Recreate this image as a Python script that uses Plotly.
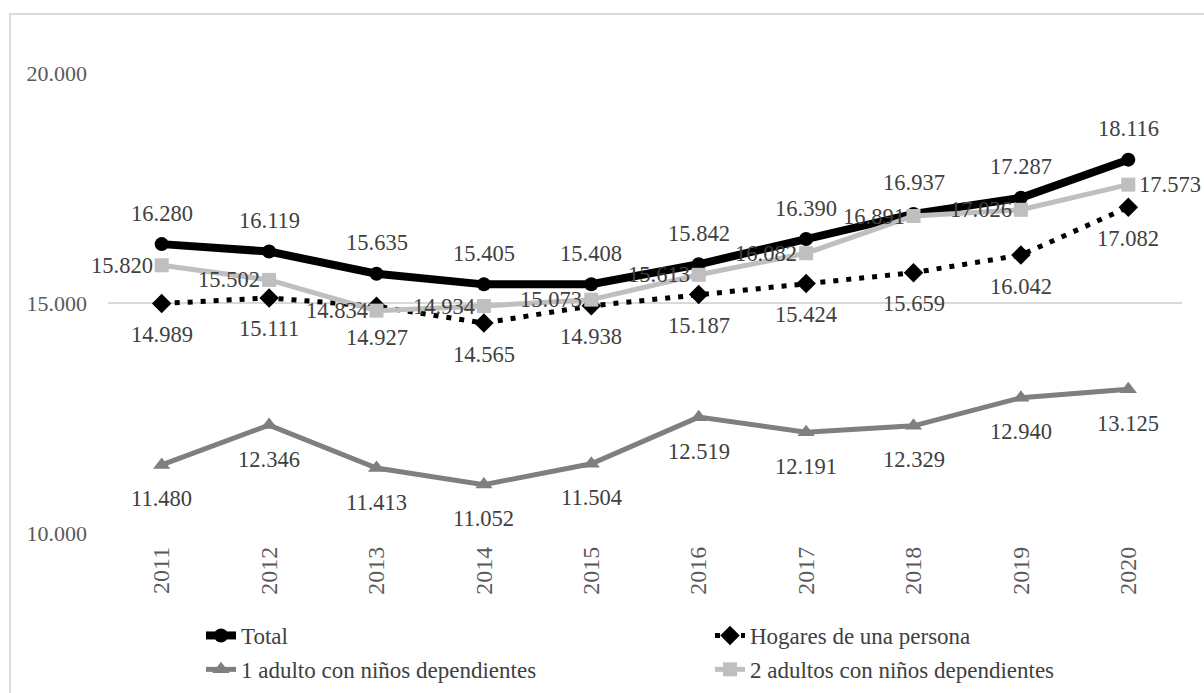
import plotly.graph_objects as go

years = ["2011", "2012", "2013", "2014", "2015", "2016", "2017", "2018", "2019", "2020"]
total = [16280, 16119, 15635, 15405, 15408, 15842, 16390, 16937, 17287, 18116]
hogares = [14989, 15111, 14927, 14565, 14938, 15187, 15424, 15659, 16042, 17082]
un_adulto = [11480, 12346, 11413, 11052, 11504, 12519, 12191, 12329, 12940, 13125]
dos_adultos = [15820, 15502, 14834, 14934, 15073, 15613, 16082, 16891, 17026, 17573]
y_ticks = [10000, 15000, 20000]

FONT = "Liberation Serif"
LBL = dict(family=FONT, size=22.5, color="#404040")


def fmt(v):
    return f"{v:,}".replace(",", ".")


fig = go.Figure()

fig.add_trace(go.Scatter(
    x=years, y=total, name="Total", mode="lines+markers",
    line=dict(color="#000000", width=8), marker=dict(symbol="circle", size=14, color="#000000"),
    legend="legend", legendgroup="a"))

fig.add_trace(go.Scatter(
    x=years, y=un_adulto, name="1 adulto con niños dependientes", mode="lines+markers",
    line=dict(color="#7f7f7f", width=5), marker=dict(symbol="triangle-up", size=15, color="#7f7f7f"),
    legend="legend", legendgroup="b"))

fig.add_trace(go.Scatter(
    x=years, y=hogares, name="Hogares de una persona", mode="lines+markers",
    line=dict(color="#000000", width=5, dash="5px,8px"), marker=dict(symbol="diamond", size=15, color="#000000"),
    legend="legend2", legendgroup="c"))

fig.add_trace(go.Scatter(
    x=years, y=dos_adultos, name="2 adultos con niños dependientes", mode="lines+markers",
    line=dict(color="#bfbfbf", width=5), marker=dict(symbol="square", size=14, color="#bfbfbf"),
    legend="legend2", legendgroup="d"))

annotations = []
for i in range(len(years)):
    annotations.append(dict(x=i, y=total[i], text=fmt(total[i]), showarrow=False,
                            yshift=31, font=LBL))
    annotations.append(dict(x=i, y=hogares[i], text=fmt(hogares[i]), showarrow=False,
                            yshift=-31, font=LBL))
    annotations.append(dict(x=i, y=un_adulto[i], text=fmt(un_adulto[i]), showarrow=False,
                            yshift=-34, font=LBL))
    last = i == len(years) - 1
    annotations.append(dict(x=i, y=dos_adultos[i], text=fmt(dos_adultos[i]), showarrow=False,
                            xanchor="left" if last else "right",
                            xshift=9 if last else -7, font=LBL))

legfont = dict(family=FONT, size=23, color="#404040")
fig.update_layout(
    width=1204, height=693,
    margin=dict(l=108, r=22, t=73, b=160, autoexpand=False),
    paper_bgcolor="white", plot_bgcolor="white",
    separators=",.",
    font=dict(family=FONT, size=22, color="#595959"),
    xaxis=dict(type="category", range=[-0.5, len(years) - 0.5], autorange=False,
               showgrid=False, showline=False, ticks="", ticklabelstandoff=8,
               tickangle=-90, tickfont=dict(family=FONT, size=24, color="#595959")),
    yaxis=dict(range=[10000, 20000], autorange=False, tickvals=y_ticks, tickformat=",d",
               showgrid=True, gridcolor="#d9d9d9", gridwidth=2, zeroline=False,
               showline=False, ticks="", ticklabelstandoff=20,
               tickfont=dict(family=FONT, size=22, color="#595959")),
    legend=dict(x=(201 - 108) / 1074, y=-(614 - 533) / 460, xanchor="left", yanchor="top",
                orientation="v", font=legfont, tracegroupgap=1, bgcolor="rgba(0,0,0,0)"),
    legend2=dict(x=(710 - 108) / 1074, y=-(614 - 533) / 460, xanchor="left", yanchor="top",
                 orientation="v", font=legfont, tracegroupgap=1, bgcolor="rgba(0,0,0,0)"),
    showlegend=True,
    annotations=annotations,
    shapes=[dict(type="rect", xref="paper", yref="paper",
                 x0=(10 - 108) / 1074, x1=(1300 - 108) / 1074,
                 y0=-(800 - 533) / 460, y1=(533 - 14) / 460,
                 line=dict(color="#d9d9d9", width=2), fillcolor="rgba(0,0,0,0)", layer="below")],
)

fig.write_html("out.html")
